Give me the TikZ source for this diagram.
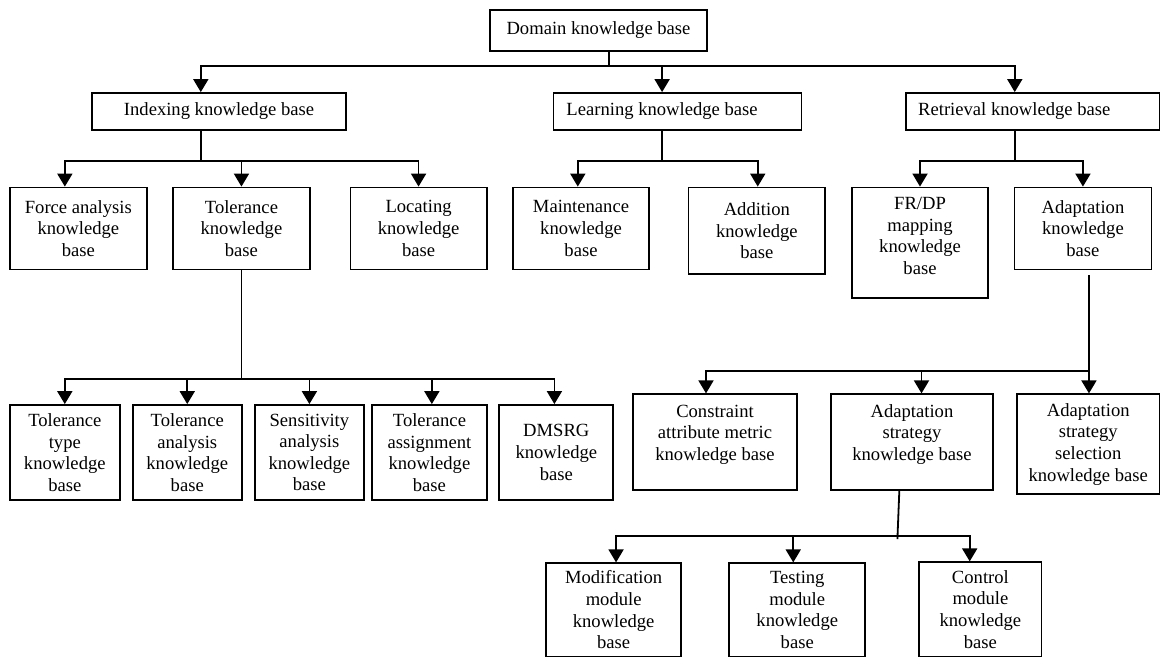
\documentclass[tikz,border=0pt]{standalone}
\usepackage{fontspec}
\setmainfont{Liberation Serif}
\usetikzlibrary{arrows.meta,calc}

\tikzset{
  kb/.style={draw, line width=1.8pt, inner sep=0pt, align=center,
             font=\fontsize{18.6}{21.6}\selectfont},
  link/.style={line width=1.8pt},
  arr/.style={link, -{Triangle[width=15pt,length=13pt]}},
}

% \kbnode{name}{x1}{y1}{x2}{y2}{text}: a framed box given by its corners
\newcommand\kbnode[6]{%
  \node[kb, minimum width={#4-#2}, minimum height={#5-#3}] (#1)
    at ({(#2+#4)/2},{(#3+#5)/2}) {#6};}

\begin{document}
\begin{tikzpicture}[x=1pt,y=-1pt]
\useasboundingbox (0,0) rectangle (1161,658);

% level 0 and 1
\kbnode{dom}{490}{10}{707}{51}{Domain knowledge base}
\kbnode{idx}{92}{93}{346}{130}{Indexing knowledge base}
\kbnode{lrn}{553.5}{93}{801.5}{130}{Learning knowledge base\hspace*{31pt}}
\kbnode{ret}{906}{93}{1159.5}{130}{Retrieval knowledge base\hspace*{37pt}}

% level 2
\kbnode{frc}{10}{187.5}{146.7}{269.5}{Force analysis\\knowledge\\base}
\kbnode{tol}{173.3}{187.5}{309.6}{269.5}{Tolerance\\knowledge\\base}
\kbnode{loc}{350.4}{187.5}{486.7}{269.5}{Locating\\knowledge\\base}
\kbnode{mnt}{513}{187.5}{649}{269.5}{Maintenance\\knowledge\\base}
\kbnode{add}{688.5}{187.5}{825.2}{274.3}{Addition\\knowledge\\base}
\kbnode{frdp}{852}{187.5}{988}{298}{FR/DP\\mapping\\knowledge\\base\\[-8pt]\mbox{}}
\kbnode{adp}{1014.4}{187.5}{1151.5}{269.5}{Adaptation\\knowledge\\base}

% level 3
\kbnode{tt}{10}{405}{119.6}{500}{Tolerance\\type\\knowledge\\base}
\kbnode{ta}{132.6}{405}{241.9}{500}{Tolerance\\analysis\\knowledge\\base}
\kbnode{sa}{254.8}{405}{364}{500}{Sensitivity\\analysis\\knowledge\\base}
\kbnode{tas}{372.2}{405}{486.7}{500}{Tolerance\\assignment\\knowledge\\base}
\kbnode{dms}{499.3}{405}{613.3}{500}{DMSRG\\knowledge\\base}
\kbnode{cons}{633.3}{394.3}{796.7}{490.3}{Constraint\\attribute metric\\knowledge base\\[-2pt]\mbox{}}
\kbnode{ast}{830.7}{394.3}{993.3}{490.3}{Adaptation\\strategy\\knowledge base\\[-2pt]\mbox{}}
\kbnode{asl}{1017}{394.3}{1159.5}{494}{Adaptation\\strategy\\selection\\knowledge base}

% level 4
\kbnode{mod}{546.3}{563.3}{681}{656.5}{Modification\\module\\knowledge\\base}
\kbnode{tst}{729.3}{563.3}{865.2}{656.5}{Testing\\module\\knowledge\\base}
\kbnode{ctl}{919.3}{562.3}{1041.5}{656.5}{Control\\module\\knowledge\\base}

% junctions of the branch lines
\coordinate (j0) at ($(dom.south)+(10.7,14.3)$);
\coordinate (j1) at ($(idx.south)+(-18.2,30)$);
\coordinate (j2) at ($(lrn.south)+(-15.4,30)$);
\coordinate (j3) at ($(ret.south)+(-18,30)$);
\coordinate (j4) at ($(tol.south)+(0,108.2)$);
\coordinate (j5) at ($(adp.south)+(6,100.8)$);
\coordinate (j6) at ($(ast.south)+(-14.6,44.7)$);

% domain -> level 1
\draw[link] ($(dom.south)+(10.7,0)$) -- (j0);
\draw[arr] (j0) -| ($(idx.north)+(-18.2,0)$);
\draw[arr] (j0) -| ($(lrn.north)+(-15.4,0)$);
\draw[arr] (j0) -| ($(ret.north)+(-18,0)$);

% indexing
\draw[link] ($(idx.south)+(-18.2,0)$) -- (j1);
\draw[arr] (j1) -| ($(frc.north)+(-13.5,0)$);
\draw[arr] (j1) -| (tol.north);
\draw[arr] (j1) -| (loc.north);

% learning
\draw[link] ($(lrn.south)+(-15.4,0)$) -- (j2);
\draw[arr] (j2) -| ($(mnt.north)+(-3.2,0)$);
\draw[arr] (j2) -| ($(add.north)+(0.9,0)$);

% retrieval
\draw[link] ($(ret.south)+(-18,0)$) -- (j3);
\draw[arr] (j3) -| (frdp.north);
\draw[arr] (j3) -| (adp.north);

% tolerance
\draw[link] (tol.south) -- (j4);
\draw[arr] (j4) -| (tt.north);
\draw[arr] (j4) -| (ta.north);
\draw[arr] (j4) -| (sa.north);
\draw[arr] (j4) -| ($(tas.north)+(2.4,0)$);
\draw[arr] (j4) -| ($(dms.north)+(-1.9,0)$);

% adaptation
\draw[arr] ($(adp.south)+(6,5)$) -- (j5) -- (j5 |- asl.north);
\draw[arr] (j5) -| ($(cons.north)+(-9,0)$);
\draw[arr] (j5) -| ($(ast.north)+(9.5,0)$);

% adaptation strategy
\draw[link] ($(ast.south)+(-12.7,0)$) -- ($(ast.south)+(-14.6,48)$);
\draw[arr] (j6) -| ($(mod.north)+(2.4,0)$);
\draw[arr] (j6) -| ($(tst.north)+(-4,0)$);
\draw[arr] (j6) -| ($(ctl.north)+(-10.7,0)$);
\end{tikzpicture}
\end{document}
